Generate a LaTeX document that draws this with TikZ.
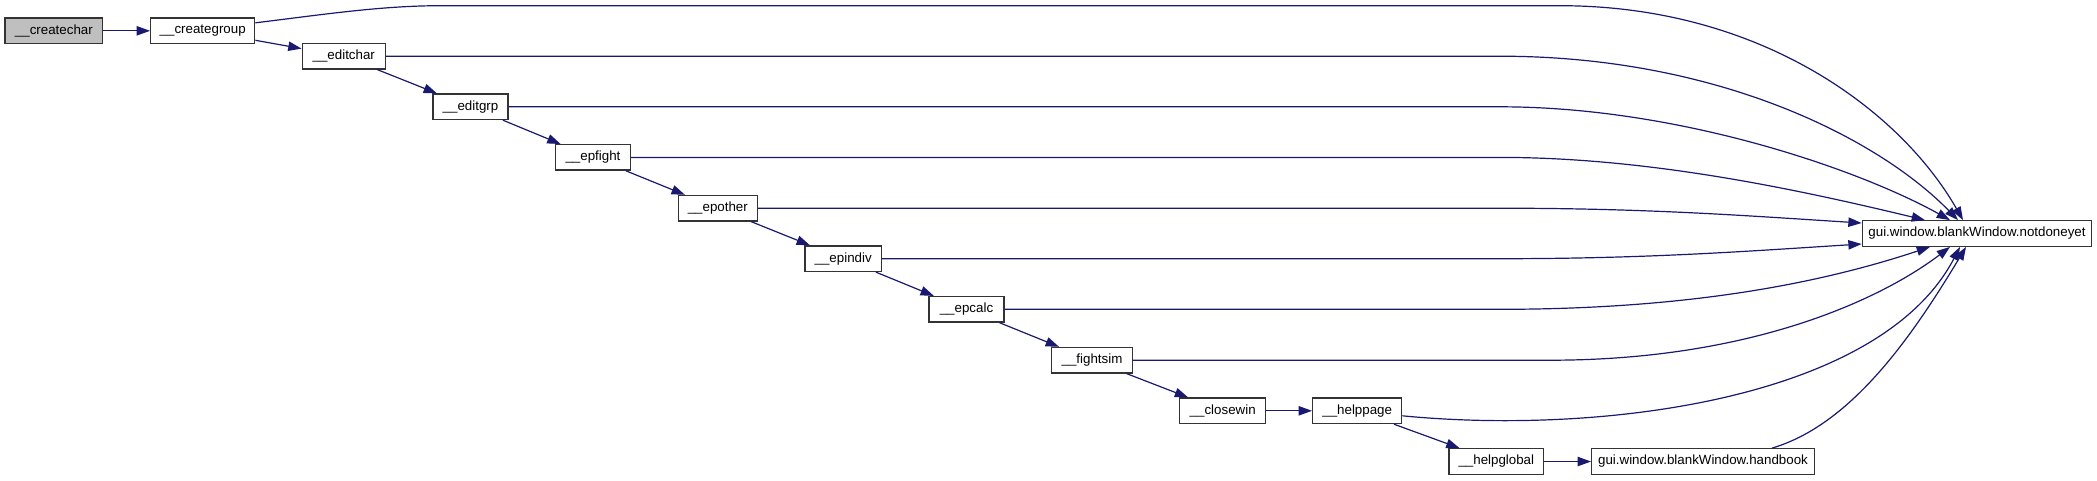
\documentclass[tikz,border=0pt]{standalone}
\usepackage{fontspec}
\setmainfont{Liberation Sans}
\usetikzlibrary{arrows.meta,calc}
\definecolor{edgeblue}{HTML}{191970}

\begin{document}
\begin{tikzpicture}[x=0.75pt,y=-0.75pt,font=\fontsize{10}{12}\selectfont,
    fn/.style={draw=black!80,line width=1pt,fill=white,minimum height=19.1pt,inner sep=0pt},
    root/.style={fn,fill=black!25},
    call/.style={draw=edgeblue,line width=0.9pt,-{Triangle[length=10pt,width=7pt]}}]
\useasboundingbox (0,0) rectangle (2097,480);
\node[root,minimum width=73.3pt] (createchar) at (53.9,30.8) {\_\_createchar};
\node[fn,minimum width=78pt] (creategroup) at (202.7,30.8) {\_\_creategroup};
\node[fn,minimum width=62.3pt] (editchar) at (343.8,56.2) {\_\_editchar};
\node[fn,minimum width=56.3pt] (editgrp) at (470.5,106.8) {\_\_editgrp};
\node[fn,minimum width=56pt] (epfight) at (593,157.4) {\_\_epfight};
\node[fn,minimum width=59.3pt] (epother) at (717.8,208.2) {\_\_epother};
\node[fn,minimum width=57.2pt] (epindiv) at (843.2,258.7) {\_\_epindiv};
\node[fn,minimum width=56.3pt] (epcalc) at (966.5,309.3) {\_\_epcalc};
\node[fn,minimum width=60.4pt] (fightsim) at (1092,360.2) {\_\_fightsim};
\node[fn,minimum width=64.5pt] (closewin) at (1222.7,410.8) {\_\_closewin};
\node[fn,minimum width=66.8pt] (helppage) at (1357.2,410.8) {\_\_helppage};
\node[fn,minimum width=71pt] (helpglobal) at (1496.3,461.5) {\_\_helpglobal};
\node[fn,minimum width=167pt] (handbook) at (1703,461.5) {gui.window.blankWindow.handbook};
\node[fn,minimum width=172pt] (notdoneyet) at (1977,233.5) {gui.window.blankWindow.notdoneyet};
\draw[call] (createchar) -- (creategroup);
\draw[call] (creategroup) -- (editchar);
\draw[call] (editchar) -- (editgrp);
\draw[call] (editgrp) -- (epfight);
\draw[call] (epfight) -- (epother);
\draw[call] (epother) -- (epindiv);
\draw[call] (epindiv) -- (epcalc);
\draw[call] (epcalc) -- (fightsim);
\draw[call] (fightsim) -- (closewin);
\draw[call] (closewin) -- (helppage);
\draw[call] (helppage) -- (helpglobal);
\draw[call] (helpglobal) -- (handbook);
\draw[call] ($(creategroup.east)+(0,-8)$) .. controls (320,15) and (380,5.7) .. (440,5.7) -- (1560,5.7) .. controls (1760,5.7) and (1900,110) .. ($(notdoneyet.north)+(-14,0)$);
\draw[call] (editchar.east) -- (1500,56.2) .. controls (1720,56.2) and (1880,140) .. ($(notdoneyet.north)+(-19,0)$);
\draw[call] (editgrp.east) -- (1500,106.8) .. controls (1680,106.8) and (1860,170) .. ($(notdoneyet.north)+(-27,0)$);
\draw[call] (epfight.east) -- (1500,157.4) .. controls (1650,157.4) and (1800,190) .. ($(notdoneyet.north)+(-52,0)$);
\draw[call] (epother.east) -- (1500,208.2) .. controls (1650,208.2) and (1750,216) .. ($(notdoneyet.west)+(0,-10.5)$);
\draw[call] (epindiv.east) -- (1500,258.7) .. controls (1650,258.7) and (1750,251) .. ($(notdoneyet.west)+(0,10.5)$);
\draw[call] (epcalc.east) -- (1500,309.3) .. controls (1700,309.3) and (1830,280) .. ($(notdoneyet.south)+(-47,0)$);
\draw[call] (fightsim.east) -- (1550,360.2) .. controls (1750,360.2) and (1880,300) .. ($(notdoneyet.south)+(-27,0)$);
\draw[call] ($(helppage.east)+(0,5)$) .. controls (1600,435) and (1880,400) .. ($(notdoneyet.south)+(-17,0)$);
\draw[call] ($(handbook.north)+(69,0)$) .. controls (1850,425) and (1910,340) .. ($(notdoneyet.south)+(-11,0)$);
\end{tikzpicture}
\end{document}
